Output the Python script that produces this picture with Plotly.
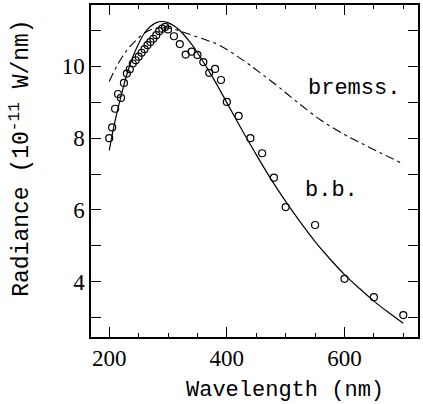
import plotly.graph_objects as go

# Measured data points (open circles)
obs_wl = [200, 205, 210, 215, 220, 225, 230, 235, 240, 245, 250, 255, 260, 265, 270,
          275, 280, 285, 290, 295, 300, 310, 320, 330, 340, 350, 360, 370, 380, 390,
          400, 420, 440, 460, 480, 500, 550, 600, 650, 700]
obs_rad = [8.0, 8.3, 8.82, 9.23, 9.12, 9.54, 9.8, 9.92, 10.08, 10.17, 10.27, 10.38, 10.48, 10.59, 10.68,
           10.77, 10.87, 10.98, 11.05, 11.10, 11.03, 10.84, 10.62, 10.33, 10.41, 10.32, 10.12, 9.82, 9.93, 9.62,
           9.01, 8.62, 8.0, 7.58, 6.9, 6.08, 5.58, 4.08, 3.57, 3.07]

# Blackbody curve (solid)
bb_wl = [200, 210, 220, 230, 240, 250, 260, 270, 280, 290, 300, 310, 320, 340, 350,
         375, 400, 425, 450, 475, 500, 525, 550, 575, 600, 625, 650, 675, 700]
bb_rad = [7.66, 8.49, 9.16, 9.78, 10.26, 10.63, 10.93, 11.11, 11.22, 11.25, 11.22, 11.13, 11.0, 10.62, 10.38,
          9.72, 8.99, 8.25, 7.54, 6.86, 6.24, 5.66, 5.12, 4.64, 4.2, 3.82, 3.46, 3.14, 2.84]

# Bremsstrahlung curve (dash-dot)
br_wl = [200, 215, 230, 245, 260, 275, 290, 305, 325, 353, 387, 432, 460, 490, 520, 560, 600, 620, 660, 700]
br_rad = [9.58, 10.07, 10.45, 10.72, 10.93, 11.05, 11.08, 11.06, 10.96, 10.8, 10.59, 10.12, 9.78, 9.4, 9.0,
          8.5, 8.1, 7.93, 7.6, 7.28]

x_range = [169, 725]
y_range = [2.46, 11.71]

fig = go.Figure()
fig.add_trace(go.Scatter(x=br_wl, y=br_rad, mode="lines", line=dict(color="black", width=1.1, dash="9px,4px,3px,4px", shape="spline"), showlegend=False))
fig.add_trace(go.Scatter(x=bb_wl, y=bb_rad, mode="lines", line=dict(color="black", width=1.2, shape="spline"), showlegend=False))
fig.add_trace(go.Scatter(x=obs_wl, y=obs_rad, mode="markers",
                         marker=dict(symbol="circle-open", size=7, color="black", line=dict(width=1.2, color="black")),
                         showlegend=False))

fig.update_layout(
    width=423, height=404,
    margin=dict(l=91, r=3, t=3, b=67),
    paper_bgcolor="white", plot_bgcolor="white",
    font=dict(family="Liberation Serif", color="black"),
    xaxis=dict(range=x_range, tickvals=[200, 400, 600], ticks="inside", ticklen=10, tickwidth=1.2,
               tickcolor="black", showline=True, linecolor="black", linewidth=1.5, mirror="ticks",
               showgrid=False, zeroline=False, tickfont=dict(size=23, family="Liberation Serif"),
               minor=dict(tickvals=[250, 300, 350, 450, 500, 550, 650, 700], ticks="inside", ticklen=4, tickwidth=1.2, tickcolor="black")),
    yaxis=dict(range=y_range, tickvals=[4, 6, 8, 10], ticks="inside", ticklen=10, tickwidth=1.2,
               tickcolor="black", showline=True, linecolor="black", linewidth=1.5, mirror="ticks",
               showgrid=False, zeroline=False, tickfont=dict(size=23, family="Liberation Serif"),
               minor=dict(tickvals=[3, 5, 7, 9, 11], ticks="inside", ticklen=10, tickwidth=1.2, tickcolor="black")),
)

fig.add_annotation(text="Wavelength (nm)", xref="paper", yref="paper", x=(286 - 91) / 329, y=-0.116,
                   xanchor="center", yanchor="top", showarrow=False,
                   font=dict(family="Liberation Mono", size=22, color="black"))
fig.add_annotation(text="Radiance (10<sup>-11</sup> W/nm)", xref="paper", yref="paper", x=-0.215, y=(337 - 157) / 334,
                   xanchor="center", yanchor="middle", textangle=-90, showarrow=False,
                   font=dict(family="Liberation Mono", size=23, color="black"))
fig.add_annotation(text="bremss.", x=616, y=9.38, xref="x", yref="y", showarrow=False,
                   font=dict(family="Liberation Mono", size=22, color="black"))
fig.add_annotation(text="b.b.", x=578, y=6.55, xref="x", yref="y", showarrow=False,
                   font=dict(family="Liberation Mono", size=22, color="black"))

fig.write_html("out.html", config={"displayModeBar": False},
               post_script="document.body.style.margin='0';document.body.style.overflow='hidden';")
